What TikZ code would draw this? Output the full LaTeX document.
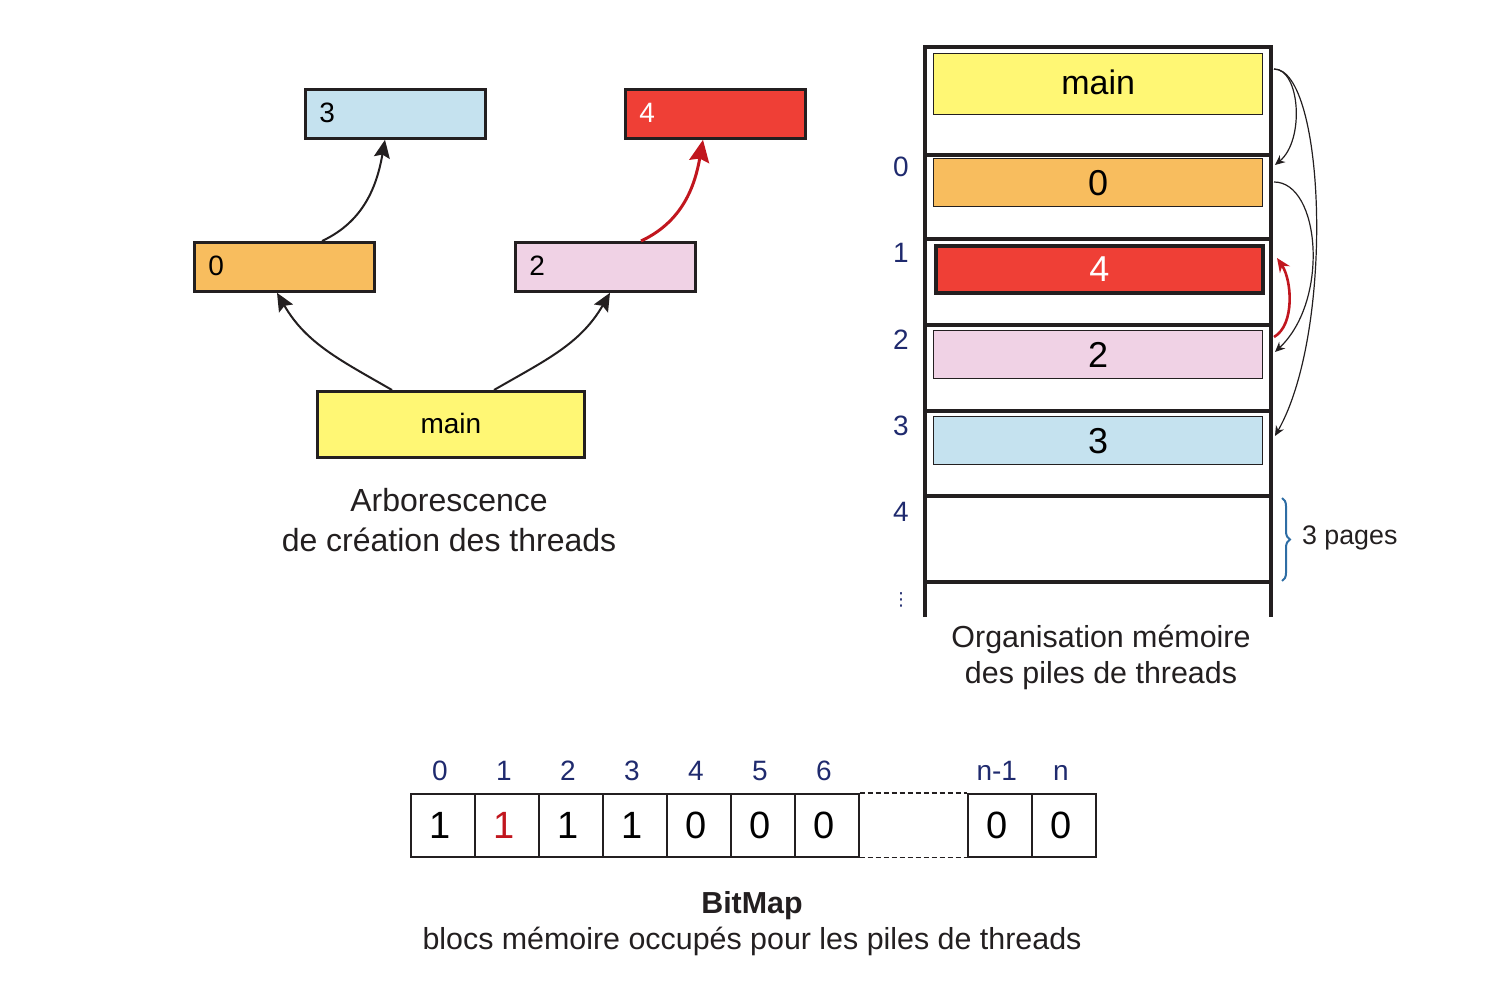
\documentclass[tikz,border=0pt]{standalone}
\usepackage{fontspec}
\setmainfont{Liberation Sans}
\newfontfamily\djv{DejaVu Sans}
\usetikzlibrary{arrows.meta,decorations.pathreplacing}
\definecolor{cyel}{RGB}{255,247,116}
\definecolor{corg}{RGB}{248,189,94}
\definecolor{cblu}{RGB}{197,226,239}
\definecolor{cred}{RGB}{239,63,54}
\definecolor{cpnk}{RGB}{240,210,229}
\definecolor{cdark}{RGB}{35,31,32}
\definecolor{carr}{RGB}{193,22,30}
\definecolor{cidx}{RGB}{31,42,110}
\definecolor{cbrace}{RGB}{46,109,164}
\begin{document}
\begin{tikzpicture}[x=0.5pt,y=-0.5pt,
  treebox/.style={draw=cdark,line width=1.4pt,minimum height=24.5pt,text width=76pt,inner xsep=7pt,align=left,anchor=north west,font=\fontsize{14}{16}\selectfont},
  membox/.style={draw=cdark,line width=0.7pt,minimum width=164.5pt,minimum height=24pt,anchor=north west,font=\fontsize{18}{20}\selectfont},
  colline/.style={draw=cdark,line width=1.6pt},
  idx/.style={text=cidx,font=\fontsize{14}{16}\selectfont},
  cell/.style={draw=cdark,line width=0.8pt,minimum width=32pt,minimum height=31.5pt,anchor=north west,font=\fontsize{19}{21}\selectfont,
    label={[idx,inner sep=0pt,label distance=6pt,xshift=-1.5pt]above:#1}},
  captxt/.style={align=center,font=\fontsize{15.2}{18}\selectfont,text=cdark},
  tarr/.style={draw=cdark,line width=1pt,-{Stealth[length=9pt,width=8pt,inset=1.5pt]}},
  rarr/.style={draw=cdark,line width=0.6pt,-{Stealth[length=5pt,width=4.5pt]}}
]
\useasboundingbox (0,0) rectangle (1506,1000);

% ---- left tree
\node[treebox,fill=cblu] (l3) at (304,88) {\raisebox{1.5pt}{3}};
\node[treebox,fill=cred,text=white] (l4) at (624,88) {\raisebox{1.5pt}{4}};
\node[treebox,fill=corg] (l0) at (193,241) {\raisebox{1.5pt}{0}};
\node[treebox,fill=cpnk] (l2) at (514,241) {\raisebox{1.5pt}{2}};
\node[draw=cdark,line width=1.4pt,fill=cyel,minimum width=133.5pt,minimum height=33pt,anchor=north west,font=\fontsize{14}{16}\selectfont] (lmain) at (316,390) {\raisebox{1pt}{main}};

\draw[tarr] ([xshift=38pt]lmain.north west) to[out=150,in=-60] ([xshift=42pt]l0.south west);
\draw[tarr] ([xshift=89pt]lmain.north west) to[out=30,in=-120] ([xshift=48pt]l2.south west);
\draw[tarr] ([xshift=64.5pt]l0.north west) to[out=25,in=-100] ([xshift=40.5pt]l3.south west);
\draw[draw=carr,line width=1.5pt,-{Stealth[length=11pt,width=10pt,inset=1.5pt]}] ([xshift=63.5pt]l2.north west) to[out=25,in=-100] ([xshift=39.5pt]l4.south west);

\node[captxt,font=\fontsize{16}{20}\selectfont] (capL) at (449,520) {Arborescence\\de création des threads};

% ---- memory column
\draw[colline] (925,617) -- (925,47) -- (1271,47) -- (1271,617);
\foreach \yy in {155,239,325,411,496,582} \draw[colline] (925,\yy) -- (1271,\yy);

\node[membox,fill=cyel,minimum height=30.5pt,font=\fontsize{17}{19}\selectfont] (rmain) at (933,53) {\raisebox{2pt}{main}};
\node[membox,fill=corg] (r0) at (933,158) {0};
\node[membox,fill=cred,line width=2pt,text=white,minimum width=163.5pt,minimum height=23.5pt] (r4) at (934,244) {4};
\node[membox,fill=cpnk] (r2) at (933,330) {2};
\node[membox,fill=cblu] (r3) at (933,416) {3};

\node[idx] (i0) at (901,167) {0};
\node[idx] (i1) at (901,253) {1};
\node[idx] (i2) at (901,340) {2};
\node[idx] (i3) at (901,426) {3};
\node[idx] (i4) at (901,512) {4};
\node[text=cidx,inner sep=0pt,font=\djv\fontsize{9}{10}\selectfont] (idots) at (901,600) {⋮};

\coordinate (mA) at (1274,69);
\coordinate (m0in) at (1275,165);
\coordinate (m3in) at (1275,436);
\coordinate (m0out) at (1274,182);
\coordinate (m2in) at (1275,352);
\coordinate (m2out) at (1274,337);
\coordinate (m4in) at (1277,258);

\draw[rarr] (mA) .. controls (1300,69) and (1305,140) .. (m0in);
\draw[rarr] (mA) .. controls (1325,69) and (1335,330) .. (m3in);
\draw[rarr] (m0out) .. controls (1320,182) and (1330,300) .. (m2in);
\draw[draw=carr,line width=1.3pt,-{Stealth[length=7pt,width=6pt]}] (m2out) .. controls (1295,325) and (1292,280) .. (m4in);

\draw[draw=cbrace,line width=1pt,decorate,decoration={brace,amplitude=4pt}] (1282,498) coordinate (bt) -- (1282,581) coordinate (bb);
\node[anchor=west,font=\fontsize{13.4}{15}\selectfont,text=cdark] (pages) at (1295,538) {3 pages};

\node[captxt] (capR) at (1101,657) {Organisation mémoire\\des piles de threads};

% ---- bitmap
\node[cell=0] (c0) at (410,793) {\hspace*{-3pt}1};
\node[cell=1,text=carr] (c1) at (474,793) {\hspace*{-3pt}1};
\node[cell=2] (c2) at (538,793) {\hspace*{-3pt}1};
\node[cell=3] (c3) at (602,793) {\hspace*{-3pt}1};
\node[cell=4] (c4) at (666,793) {\hspace*{-3pt}0};
\node[cell=5] (c5) at (730,793) {\hspace*{-3pt}0};
\node[cell=6] (c6) at (794,793) {\hspace*{-3pt}0};
\node[cell=n-1] (cn1) at (967,793) {\hspace*{-3pt}0};
\node[cell=n] (cn) at (1031,793) {\hspace*{-3pt}0};
\draw[cdark,line width=0.6pt,dash pattern=on 2.5pt off 1.5pt] (c6.north east) -- (cn1.north west);
\draw[cdark,line width=0.6pt,dash pattern=on 2.5pt off 1.5pt] (c6.south east) -- (cn1.south west);

\node[captxt] (capB) at (752,924) {\textbf{BitMap}\\blocs mémoire occupés pour les piles de threads};
\end{tikzpicture}
\end{document}
